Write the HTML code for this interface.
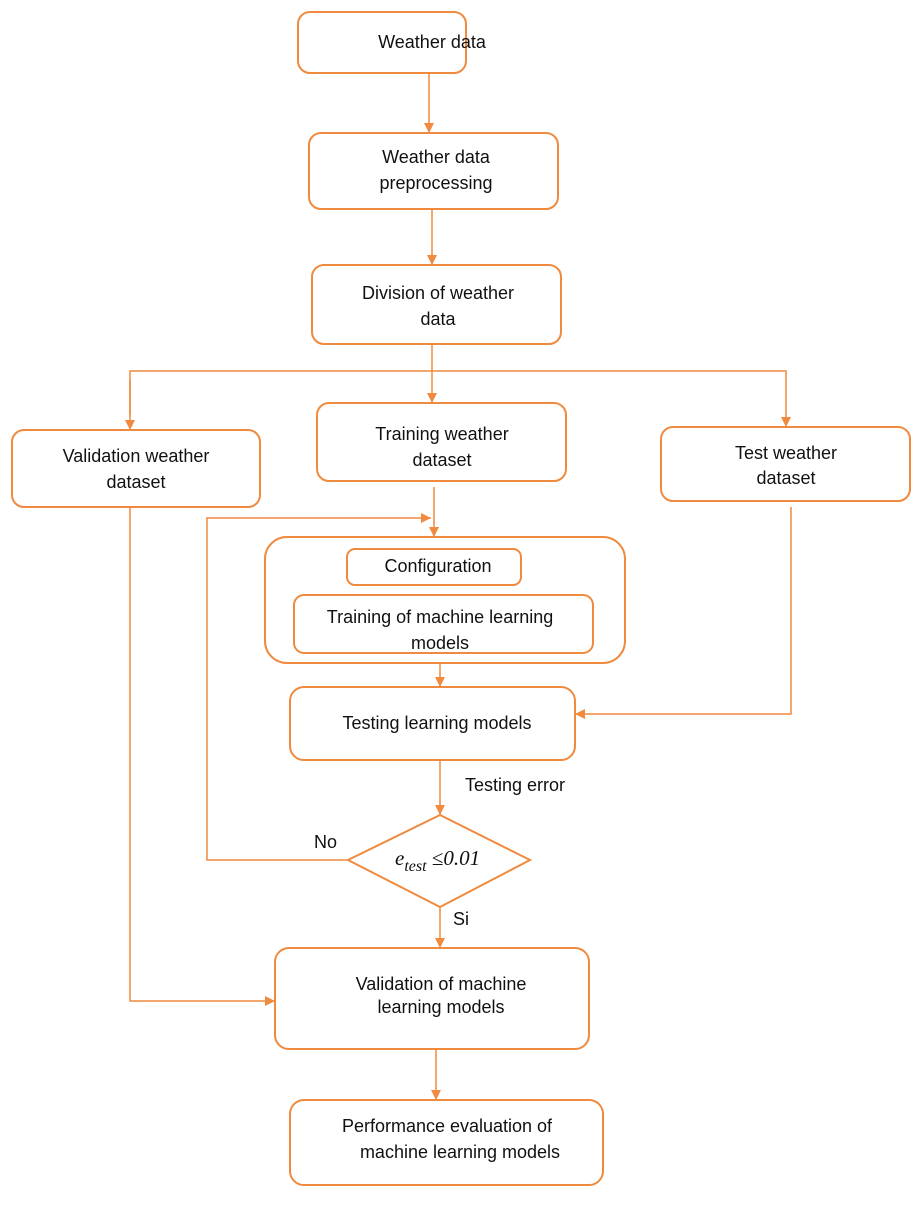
<!DOCTYPE html>
<html><head><style>
body{margin:0;background:#fff}
svg text{font-family:"Liberation Sans",sans-serif;font-size:18px;fill:#111}
</style></head><body>
<svg width="920" height="1200" viewBox="0 0 920 1200" xmlns="http://www.w3.org/2000/svg">
<defs><marker id="a" viewBox="0 0 10 10" refX="10" refY="5" markerWidth="10" markerHeight="10" markerUnits="userSpaceOnUse" orient="auto"><path d="M0,0L10,5L0,10z" fill="#ef8a3e"/></marker></defs>
<g fill="none" stroke="#ef8a3e" stroke-width="2">
<rect x="298" y="12" width="168" height="61" rx="12"/>
<rect x="309" y="133" width="249" height="76" rx="12"/>
<rect x="312" y="265" width="249" height="79" rx="12"/>
<rect x="12" y="430" width="248" height="77" rx="12"/>
<rect x="317" y="403" width="249" height="78" rx="12"/>
<rect x="661" y="427" width="249" height="74" rx="12"/>
<rect x="265" y="537" width="360" height="126" rx="22"/>
<rect x="347" y="549" width="174" height="36" rx="8"/>
<rect x="294" y="595" width="299" height="58" rx="10"/>
<rect x="290" y="687" width="285" height="73" rx="14"/>
<polygon points="348,860 440,815 530,860 440,907"/>
<rect x="275" y="948" width="314" height="101" rx="14"/>
<rect x="290" y="1100" width="313" height="85" rx="14"/>
<g stroke-width="1.5">
<line x1="429" y1="73" x2="429" y2="133" marker-end="url(#a)"/>
<line x1="432" y1="209" x2="432" y2="265" marker-end="url(#a)"/>
<line x1="432" y1="344" x2="432" y2="403" marker-end="url(#a)"/>
<polyline points="130,415 130,371 786,371 786,427" marker-end="url(#a)"/>
<line x1="130" y1="380" x2="130" y2="430" marker-end="url(#a)"/>
<line x1="434" y1="487" x2="434" y2="537" marker-end="url(#a)"/>
<polyline points="348,860 207,860 207,518 431,518" marker-end="url(#a)"/>
<line x1="440" y1="663" x2="440" y2="687" marker-end="url(#a)"/>
<polyline points="791,507 791,714 575,714" marker-end="url(#a)"/>
<line x1="440" y1="760" x2="440" y2="815" marker-end="url(#a)"/>
<line x1="440" y1="907" x2="440" y2="948" marker-end="url(#a)"/>
<polyline points="130,507 130,1001 275,1001" marker-end="url(#a)"/>
<line x1="436" y1="1049" x2="436" y2="1100" marker-end="url(#a)"/>
</g></g>
<g text-anchor="middle">
<text x="432" y="48">Weather data</text>
<text x="436" y="163">Weather data</text><text x="436" y="189">preprocessing</text>
<text x="438" y="299">Division of weather</text><text x="438" y="325">data</text>
<text x="136" y="462">Validation weather</text><text x="136" y="488">dataset</text>
<text x="442" y="440">Training weather</text><text x="442" y="466">dataset</text>
<text x="786" y="459">Test weather</text><text x="786" y="484">dataset</text>
<text x="438" y="572">Configuration</text>
<text x="440" y="623">Training of machine learning</text><text x="440" y="649">models</text>
<text x="437" y="729">Testing learning models</text>
<text x="441" y="990">Validation of machine</text><text x="441" y="1013">learning models</text>
<text x="447" y="1132">Performance evaluation of</text><text x="460" y="1158">machine learning models</text>
</g>
<text x="465" y="791">Testing error</text>
<text x="314" y="848">No</text>
<text x="453" y="925">Si</text>
<text x="395" y="865" style="font-family:'Liberation Serif',serif;font-style:italic;font-size:21px">e<tspan dy="6" font-size="16">test</tspan><tspan dy="-6"> ≤0.01</tspan></text>
</svg>
</body></html>
